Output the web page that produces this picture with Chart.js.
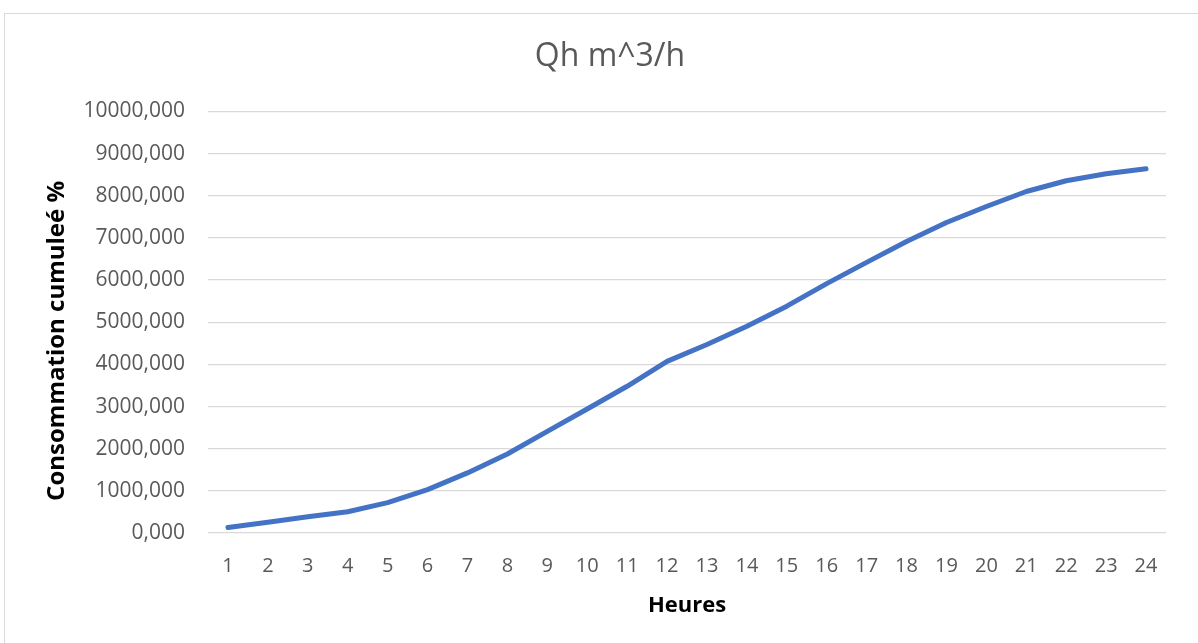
<!DOCTYPE html>
<html>
<head>
<meta charset="utf-8">
<script src="https://cdn.jsdelivr.net/npm/chart.js@4"></script>
<style>
  body { margin: 0; background: #fff; }
  #cadre { position: absolute; left: 4px; top: 13px; right: 0; bottom: 0; border-left: 1px solid #d9d9d9; border-top: 1px solid #d9d9d9; }
  #zone { position: absolute; left: 0; top: 0; width: 1198px; height: 643px; }
</style>
</head>
<body>
<div id="cadre"></div>
<div id="zone"><canvas id="myChart"></canvas></div>
<script>
// heures de la journée
var heures = ['1','2','3','4','5','6','7','8','9','10','11','12','13','14','15','16','17','18','19','20','21','22','23','24'];
// consommation cumulée
var cumul = [130, 255, 385, 505, 720, 1030, 1425, 1875, 2410, 2940, 3480, 4070, 4470, 4905, 5380, 5915, 6420, 6915, 7365, 7745, 8100, 8355, 8520, 8640];
// graduations de l'axe vertical
var yMin = 0;
var yMax = 10000;
var yPas = 1000;

var gris = '#595959';

var bieudo = new Chart('myChart', {
    type: 'line',
    data: {
        labels: heures,
        datasets: [{
            label: 'Qh m^3/h',
            data: cumul,
            borderColor: '#4472C4',
            borderWidth: 5,
            borderCapStyle: 'round',
            borderJoinStyle: 'round',
            pointRadius: 0,
            tension: 0,
            fill: false
        }]
    },
    options: {
        responsive: true,
        maintainAspectRatio: false,
        animation: false,
        layout: { padding: { left: 22, right: 0, top: 0, bottom: 0 } },
        plugins: {
            legend: { display: false },
            tooltip: { enabled: false },
            title: {
                display: true,
                text: 'Qh m^3/h',
                color: gris,
                font: { family: 'Open Sans', size: 32, weight: 'normal' },
                padding: { top: 38, bottom: 35 }
            }
        },
        scales: {
            x: {
                offset: true,
                grid: { display: false, drawTicks: false },
                border: { display: false },
                ticks: {
                    color: gris,
                    font: { family: 'Open Sans', size: 20 },
                    padding: 21,
                    maxRotation: 0,
                    autoSkip: false
                },
                title: {
                    display: true,
                    text: 'Heures',
                    color: '#000',
                    font: { family: 'Open Sans', size: 22, weight: 'bold' },
                    padding: { top: 0, bottom: 24 }
                },
                afterFit: function (s) { s.height = 110; }
            },
            y: {
                min: yMin,
                max: yMax,
                grid: { color: '#d9d9d9', lineWidth: 1.3, drawTicks: false },
                border: { display: false },
                ticks: {
                    stepSize: yPas,
                    color: gris,
                    font: { family: 'Open Sans', size: 21 },
                    padding: 23,
                    callback: function (v) { return v.toFixed(3).replace('.', ','); }
                },
                title: {
                    display: true,
                    text: 'Consommation cumuleé %      ',
                    color: '#000',
                    font: { family: 'Open Sans', size: 24, weight: 'bold' },
                    padding: { top: 21, bottom: 0 }
                },
                afterFit: function (s) { s.width = 186; }
            },
            // axe vide à droite, seulement pour la marge
            droite: {
                type: 'linear',
                position: 'right',
                grid: { display: false },
                border: { display: false },
                ticks: { display: false },
                afterFit: function (s) { s.width = 32; }
            }
        }
    }
});
</script>
</body>
</html>
